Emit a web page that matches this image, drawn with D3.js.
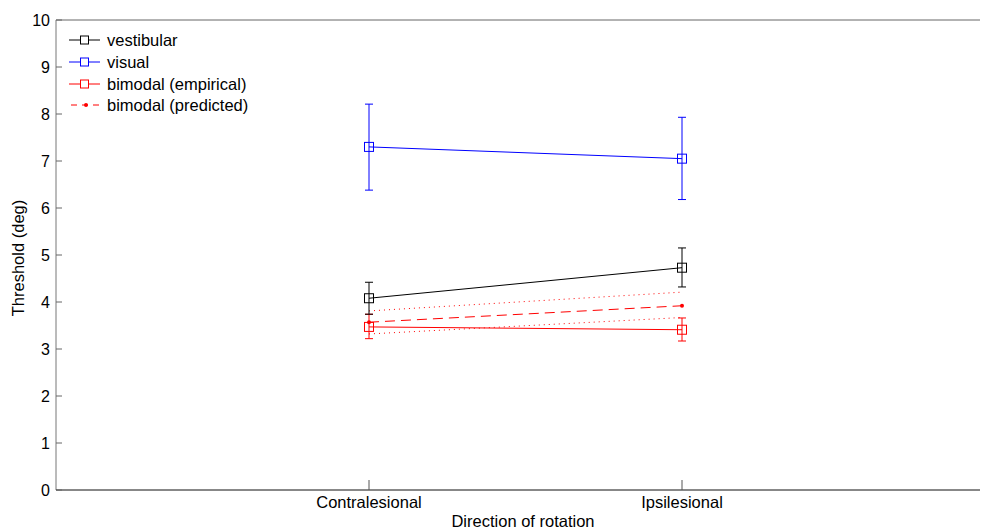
<!DOCTYPE html>
<html><head><meta charset="utf-8">
<script src="https://d3js.org/d3.v7.min.js"></script>
<style>body{margin:0;background:#fff}svg{display:block}text{font-family:"Liberation Sans",Arial,sans-serif}</style>
</head><body>
<script>
const categories = ["Contralesional", "Ipsilesional"];
const catPos = [1, 2];
const yTicks = [0,1,2,3,4,5,6,7,8,9,10];
const vestibularMean = [4.08, 4.73];
const vestibularLo = [3.74, 4.32];
const vestibularHi = [4.42, 5.15];
const visualMean = [7.30, 7.05];
const visualLo = [6.38, 6.18];
const visualHi = [8.21, 7.93];
const empiricalMean = [3.47, 3.41];
const empiricalLo = [3.22, 3.17];
const empiricalHi = [3.74, 3.66];
const predictedMean = [3.57, 3.92];
const predictedLo = [3.32, 3.67];
const predictedHi = [3.81, 4.21];
const legendLabels = ["vestibular", "visual", "bimodal (empirical)", "bimodal (predicted)"];

const W = 981, H = 531;
const svg = d3.select("body").append("svg").attr("width", W).attr("height", H);
const L = 56, T = 20, B = 490, R = 980;
const x = d3.scaleLinear().domain([0, 3]).range([L, 995]);
const y = d3.scaleLinear().domain([0, 10]).range([B, T]);

// frame
svg.append("line").attr("x1", L).attr("x2", R).attr("y1", T).attr("y2", T).attr("stroke", "#666");
svg.append("line").attr("x1", L).attr("x2", L).attr("y1", T).attr("y2", B).attr("stroke", "#777");
svg.append("line").attr("x1", L).attr("x2", R).attr("y1", B).attr("y2", B).attr("stroke", "#111");

// y ticks
const yAxis = svg.append("g");
yTicks.forEach(t => {
  yAxis.append("line").attr("x1", L).attr("x2", L + 6).attr("y1", y(t)).attr("y2", y(t)).attr("stroke", "#666");
  yAxis.append("text").attr("x", L - 6).attr("y", y(t)).attr("dy", "0.36em").attr("text-anchor", "end")
    .attr("font-size", 16).text(t);
});
// x ticks
catPos.forEach((p, i) => {
  svg.append("line").attr("x1", x(p)).attr("x2", x(p)).attr("y1", B).attr("y2", B - 10).attr("stroke", "#555");
  svg.append("text").attr("x", x(p)).attr("y", B + 18).attr("text-anchor", "middle").attr("font-size", 16.5).text(categories[i]);
});
svg.append("text").attr("x", 523).attr("y", 527).attr("text-anchor", "middle").attr("font-size", 16.5).text("Direction of rotation");
svg.append("text").attr("transform", `translate(24,258) rotate(-90)`).attr("text-anchor", "middle").attr("font-size", 16.5).text("Threshold (deg)");

const line = d3.line().x((d, i) => x(catPos[i])).y(d => y(d));
const g = svg.append("g");

function errorBars(lo, hi, color) {
  lo.forEach((v, i) => {
    const cx = x(catPos[i]);
    g.append("line").attr("x1", cx).attr("x2", cx).attr("y1", y(lo[i])).attr("y2", y(hi[i])).attr("stroke", color);
    [lo[i], hi[i]].forEach(e => g.append("line").attr("x1", cx - 4).attr("x2", cx + 4).attr("y1", y(e)).attr("y2", y(e)).attr("stroke", color));
  });
}
function squares(vals, color) {
  vals.forEach((v, i) => g.append("rect").attr("x", x(catPos[i]) - 4.5).attr("y", y(v) - 4.5).attr("width", 9).attr("height", 9)
    .attr("fill", "none").attr("stroke", color));
}

// predicted
g.append("path").attr("d", line(predictedLo)).attr("fill", "none").attr("stroke", "#f00").attr("stroke-dasharray", "1,4");
g.append("path").attr("d", line(predictedHi)).attr("fill", "none").attr("stroke", "#f00").attr("stroke-dasharray", "1,4");
g.append("path").attr("d", line(predictedMean)).attr("fill", "none").attr("stroke", "#f00").attr("stroke-dasharray", "10,6");
predictedMean.forEach((v, i) => g.append("circle").attr("cx", x(catPos[i])).attr("cy", y(v)).attr("r", 2).attr("fill", "#f00"));

// empirical
g.append("path").attr("d", line(empiricalMean)).attr("fill", "none").attr("stroke", "#f00");
errorBars(empiricalLo, empiricalHi, "#f00");
squares(empiricalMean, "#f00");

// vestibular
g.append("path").attr("d", line(vestibularMean)).attr("fill", "none").attr("stroke", "#000");
errorBars(vestibularLo, vestibularHi, "#000");
squares(vestibularMean, "#000");

// visual
g.append("path").attr("d", line(visualMean)).attr("fill", "none").attr("stroke", "#00f");
errorBars(visualLo, visualHi, "#00f");
squares(visualMean, "#00f");

// legend
const colors = ["#000", "#00f", "#f00", "#f00"];
const ly = [40, 62, 84, 105];
legendLabels.forEach((lab, i) => {
  const lg = svg.append("g");
  if (i < 3) {
    lg.append("line").attr("x1", 69).attr("x2", 100).attr("y1", ly[i]).attr("y2", ly[i]).attr("stroke", colors[i]);
    lg.append("rect").attr("x", 84.5 - 4).attr("y", ly[i] - 4).attr("width", 8).attr("height", 8).attr("fill", "#fff").attr("stroke", colors[i]);
  } else {
    lg.append("line").attr("x1", 71).attr("x2", 100).attr("y1", ly[i]).attr("y2", ly[i]).attr("stroke", colors[i]).attr("stroke-dasharray", "6,5");
    lg.append("circle").attr("cx", 86).attr("cy", ly[i]).attr("r", 2).attr("fill", colors[i]);
  }
  lg.append("text").attr("x", 107).attr("y", ly[i]).attr("dy", "0.36em").attr("font-size", 16.5).text(lab);
});
</script>
</body></html>
